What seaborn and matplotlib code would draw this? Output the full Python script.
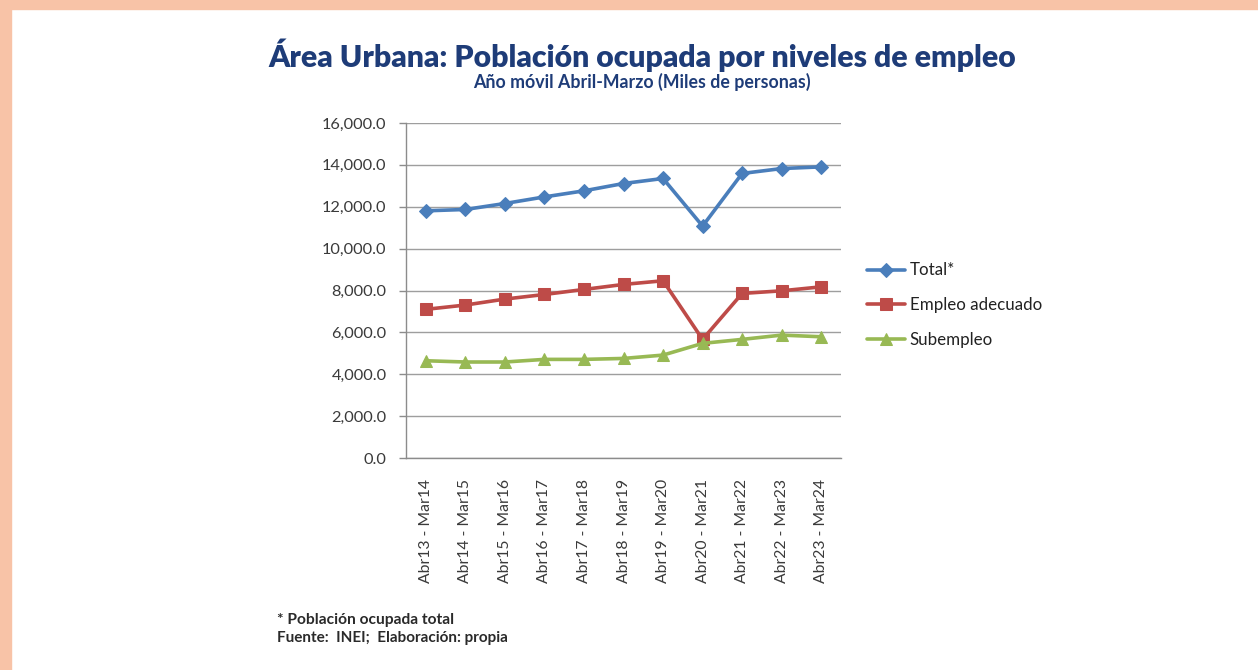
import matplotlib
matplotlib.use("Agg")
import matplotlib.pyplot as plt
import matplotlib.patches as mpatches
from matplotlib.ticker import FuncFormatter, FixedLocator
import seaborn as sns
import pandas as pd

periodos = ["Abr13 - Mar14", "Abr14 - Mar15", "Abr15 - Mar16", "Abr16 - Mar17",
            "Abr17 - Mar18", "Abr18 - Mar19", "Abr19 - Mar20", "Abr20 - Mar21",
            "Abr21 - Mar22", "Abr22 - Mar23", "Abr23 - Mar24"]
total = [11805, 11870, 12155, 12470, 12760, 13110, 13350, 11075, 13590, 13825, 13905]
empleo_adecuado = [7100, 7305, 7590, 7810, 8050, 8290, 8465, 5665, 7860, 7985, 8175]
subempleo = [4645, 4585, 4585, 4710, 4710, 4755, 4915, 5475, 5665, 5870, 5790]

series_names = ["Total*", "Empleo adecuado", "Subempleo"]
colors = {"Total*": "#4A7EBB", "Empleo adecuado": "#BE4B48", "Subempleo": "#98B954"}
markers = {"Total*": "D", "Empleo adecuado": "s", "Subempleo": "^"}
msizes = {"Total*": 7, "Empleo adecuado": 9, "Subempleo": 8.5}

df = pd.DataFrame({
    "periodo": periodos * 3,
    "serie": [s for s, vals in zip(series_names, [total, empleo_adecuado, subempleo]) for _ in vals],
    "valor": total + empleo_adecuado + subempleo,
})

sns.set_theme(style="white")
plt.rcParams["font.family"] = ["Lato", "DejaVu Sans"]

fig = plt.figure(figsize=(12.58, 6.70), dpi=100)
fig.patch.set_facecolor("white")

# peach frame along the top and left edges
fig.add_artist(mpatches.Rectangle((0, 1 - 9 / 670), 1, 9 / 670, transform=fig.transFigure,
                                  color="#F8C3A7", zorder=0))
fig.add_artist(mpatches.Rectangle((0, 0), 11 / 1258, 1, transform=fig.transFigure,
                                  color="#F8C3A7", zorder=0))

ax = fig.add_axes([406 / 1258, 1 - 458 / 670, 435 / 1258, 335 / 670])

for name in series_names:
    sub = df[df["serie"] == name]
    sns.lineplot(data=sub, x="periodo", y="valor", ax=ax, color=colors[name],
                 marker=markers[name], markersize=msizes[name], linewidth=2.6,
                 markeredgecolor=colors[name], label=name, sort=False, zorder=3)

n = len(periodos)
ax.set_xlim(-0.5, n - 0.5)
ax.set_ylim(0, 16000)
ax.set_yticks(range(0, 16001, 2000))
ax.yaxis.set_major_formatter(FuncFormatter(lambda v, p: f"{v:,.1f}"))
ax.set_xticks(range(n))
ax.set_xticklabels(periodos, rotation=90, fontsize=11.3, color="#3A3A3A")
ax.xaxis.set_minor_locator(FixedLocator([i - 0.5 for i in range(n + 1)]))
ax.tick_params(axis="x", which="major", length=0, pad=15)
ax.tick_params(axis="x", which="minor", length=5, color="#8C8C8C", width=1, direction="out")
ax.tick_params(axis="y", which="major", length=5, color="#8C8C8C", width=1,
               labelsize=11.8, labelcolor="#3A3A3A", left=True, pad=9)
ax.set_xlabel("")
ax.set_ylabel("")
ax.grid(axis="y", color="#9E9E9E", linewidth=1.0)
ax.set_axisbelow(True)
for side in ["top", "right"]:
    ax.spines[side].set_visible(False)
for side in ["left", "bottom"]:
    ax.spines[side].set_color("#8C8C8C")
    ax.spines[side].set_linewidth(1.0)

leg = ax.legend(loc="upper left", bbox_to_anchor=(1.045, 0.604), frameon=False,
                fontsize=12.2, labelspacing=1.12, handlelength=2.2, handletextpad=0.3,
                borderaxespad=0)
for t in leg.get_texts():
    t.set_color("#222222")

fig.text(642 / 1258, 1 - 55 / 670, "Área Urbana: Población ocupada por niveles de empleo",
         ha="center", va="center", fontsize=21.7, fontweight="heavy", color="#1E3C78")
fig.text(642 / 1258, 1 - 82 / 670, "Año móvil Abril-Marzo (Miles de personas)",
         ha="center", va="center", fontsize=12.8, fontweight="bold", color="#1E3C78")

fig.text(277 / 1258, 1 - 620 / 670, "* Población ocupada total",
         ha="left", va="center", fontsize=11.2, fontweight="bold", color="#2A2A2A")
fig.text(277 / 1258, 1 - 638 / 670, "Fuente:  INEI;  Elaboración: propia",
         ha="left", va="center", fontsize=11, fontweight="bold", color="#2A2A2A")

fig.savefig("out.png", dpi=100, facecolor="white")
